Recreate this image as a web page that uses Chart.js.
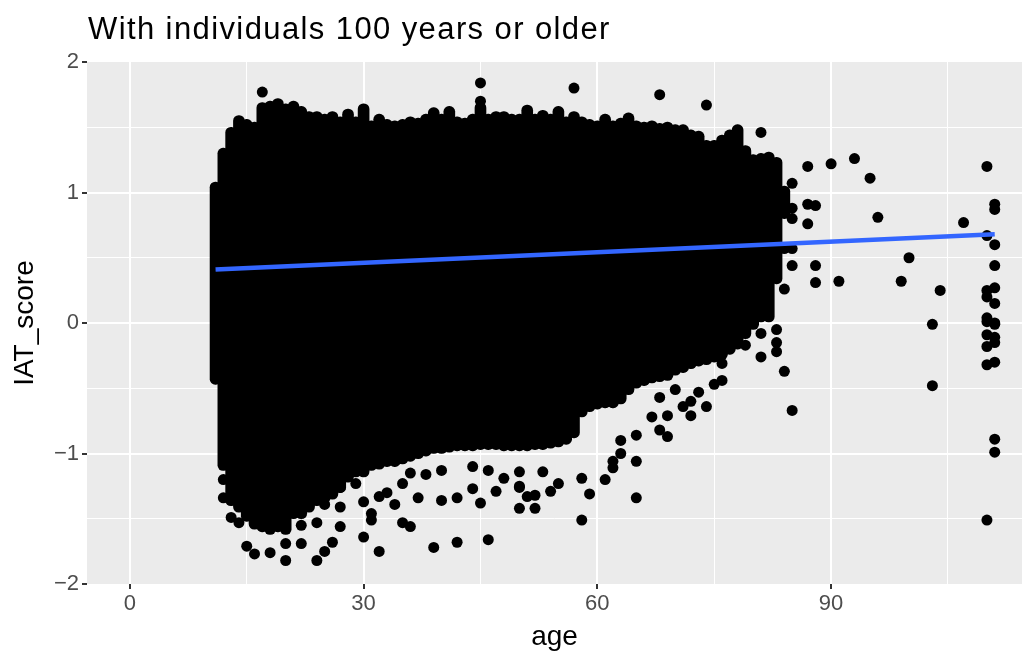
<!DOCTYPE html>
<html>
<head>
<meta charset="utf-8">
<script src="https://cdn.jsdelivr.net/npm/chart.js@4.4.1/dist/chart.umd.min.js"></script>
<style>
  html, body { margin: 0; padding: 0; background: #fff; }
  #wrap { width: 1031px; height: 654px; }
</style>
</head>
<body>
<div id="wrap"><canvas id="iatChart"></canvas></div>
<script>
const plotTitle = 'With individuals 100 years or older';

// dense cloud: for each age, lowest and highest score of the solid mass
const coreAges = [11, 12, 13, 14, 15, 16, 17, 18, 19, 20, 21, 22, 23, 24, 25, 26, 27, 28, 29, 30,
    31, 32, 33, 34, 35, 36, 37, 38, 39, 40, 41, 42, 43, 44, 45, 46, 47, 48, 49, 50,
    51, 52, 53, 54, 55, 56, 57, 58, 59, 60, 61, 62, 63, 64, 65, 66, 67, 68, 69, 70,
    71, 72, 73, 74, 75, 76, 77, 78, 79, 80, 81, 82, 83, 84];
const coreHi = [1.08, 1.34, 1.50, 1.59, 1.56, 1.54, 1.69, 1.70, 1.72, 1.68, 1.70, 1.66, 1.62, 1.62, 1.60, 1.62, 1.58, 1.64, 1.58, 1.68,
    1.55, 1.60, 1.56, 1.55, 1.56, 1.58, 1.57, 1.60, 1.65, 1.60, 1.66, 1.58, 1.57, 1.60, 1.69, 1.60, 1.62, 1.62, 1.60, 1.60,
    1.67, 1.60, 1.63, 1.60, 1.66, 1.58, 1.62, 1.58, 1.56, 1.55, 1.60, 1.55, 1.57, 1.61, 1.55, 1.54, 1.55, 1.53, 1.54, 1.52,
    1.52, 1.48, 1.47, 1.40, 1.40, 1.44, 1.48, 1.52, 1.36, 1.29, 1.30, 1.31, 1.27, 1.05];
const coreLo = [-0.47, -1.13, -1.40, -1.45, -1.52, -1.58, -1.60, -1.62, -1.60, -1.62, -1.50, -1.50, -1.45, -1.40, -1.38, -1.35, -1.30, -1.22, -1.18, -1.18,
    -1.13, -1.12, -1.10, -1.10, -1.08, -1.06, -1.04, -1.02, -1.00, -1.00, -0.99, -0.98, -0.98, -0.98, -0.97, -0.97, -0.97, -0.98, -0.98, -0.98,
    -0.98, -0.97, -0.97, -0.96, -0.95, -0.93, -0.88, -0.72, -0.68, -0.66, -0.65, -0.65, -0.62, -0.55, -0.50, -0.48, -0.46, -0.45, -0.44, -0.40,
    -0.38, -0.35, -0.33, -0.32, -0.30, -0.28, -0.24, -0.20, -0.12, -0.05, 0.00, 0.00, 0.30, 0.80];

// single points outside the solid mass
const outAge = [17, 45, 45, 57, 68, 74, 81,
    12, 12, 13, 14, 15, 16, 18, 20, 20, 22, 22, 24, 25, 26, 24, 27, 27, 25, 30, 31, 31, 32, 30, 32,
    33, 34, 35, 36, 37, 39, 40, 42, 42, 44, 45, 46, 47, 48, 50, 50, 44, 46, 38, 40, 35, 36, 29, 27,
    50, 50, 51, 52, 52, 53, 54, 55, 58, 58, 59, 61, 62, 62, 63, 63, 65, 65, 65, 68, 69, 69, 67, 68,
    71, 72, 74, 72, 73, 75, 76, 76, 70,
    79, 81, 81, 83, 83, 83, 84, 84, 84, 85, 85, 85, 85, 85, 85, 87, 87, 87, 88, 88, 88,
    90, 91, 93, 95, 96, 99, 100, 103, 103, 104, 107,
    110, 110, 110, 110, 110, 110, 110, 110, 110, 110,
    111, 111, 111, 111, 111, 111, 111, 111, 111, 111, 111, 111, 111];
const outScore = [1.77, 1.84, 1.70, 1.80, 1.75, 1.67, 1.46,
    -1.20, -1.34, -1.49, -1.53, -1.71, -1.77, -1.76, -1.82, -1.69, -1.69, -1.55, -1.82, -1.75, -1.68, -1.53, -1.56, -1.41, -1.39, -1.64, -1.51, -1.46, -1.75, -1.37, -1.33,
    -1.30, -1.39, -1.53, -1.56, -1.34, -1.72, -1.36, -1.34, -1.68, -1.27, -1.38, -1.66, -1.29, -1.19, -1.42, -1.26, -1.10, -1.13, -1.16, -1.13, -1.23, -1.15, -1.23, -1.26,
    -1.14, -1.25, -1.33, -1.32, -1.42, -1.14, -1.29, -1.23, -1.51, -1.19, -1.31, -1.20, -1.11, -1.06, -1.00, -0.90, -1.06, -1.34, -0.86, -0.82, -0.87, -0.71, -0.72, -0.57,
    -0.64, -0.71, -0.64, -0.60, -0.53, -0.47, -0.44, -0.31, -0.51,
    -0.17, -0.08, -0.26, -0.05, -0.15, -0.22, 0.57, 0.26, -0.37, 1.07, 0.88, 0.80, 0.57, 0.44, -0.67, 1.20, 0.91, 0.76, 0.90, 0.44, 0.31,
    1.22, 0.32, 1.26, 1.11, 0.81, 0.32, 0.50, -0.01, -0.48, 0.25, 0.77,
    1.20, 0.67, 0.25, 0.20, 0.04, 0.01, -0.09, -0.18, -0.32, -1.51,
    0.91, 0.87, 0.60, 0.44, 0.27, 0.15, 0.00, -0.01, -0.11, -0.15, -0.30, -0.89, -0.99];

// linear fit
const fitAge = [11, 111];
const fitScore = [0.41, 0.68];

const xTicks = [0, 15, 30, 45, 60, 75, 90, 105];
const yTicks = [-2, -1.5, -1, -0.5, 0, 0.5, 1, 1.5, 2];

Chart.defaults.font.family = '"Liberation Sans", Arial, sans-serif';

// grey panel behind the grid
const panelBg = {
    id: 'panelBg',
    beforeDraw(chart) {
        const { ctx, chartArea: a } = chart;
        ctx.save();
        ctx.fillStyle = '#EBEBEB';
        ctx.fillRect(a.left, a.top, a.right - a.left, a.bottom - a.top);
        ctx.restore();
    }
};

// left aligned plot title like ggplot
const titlePlugin = {
    id: 'plotTitle',
    afterDraw(chart) {
        const { ctx, chartArea } = chart;
        ctx.save();
        ctx.font = '31px "Liberation Sans", Arial, sans-serif';
        ctx.letterSpacing = '1.4px';
        ctx.fillStyle = '#000';
        ctx.textBaseline = 'alphabetic';
        ctx.fillText(plotTitle, chartArea.left + 1, 39);
        ctx.restore();
    }
};

const minus = v => (v < 0 ? '\u2212' + Math.abs(v) : String(v));

new Chart(document.getElementById('iatChart').getContext('2d'), {
    type: 'scatter',
    data: {
        datasets: [
            {
                type: 'line',
                data: fitAge.map((a, i) => ({ x: a, y: fitScore[i] })),
                borderColor: '#3366FF',
                borderWidth: 4.5,
                pointRadius: 0,
                showLine: true,
                fill: false,
                order: 1
            },
            {
                type: 'scatter',
                data: outAge.map((a, i) => ({ x: a, y: outScore[i] })),
                pointRadius: 5.5,
                pointBackgroundColor: '#000',
                pointBorderWidth: 0,
                order: 2
            },
            {
                type: 'bar',
                data: coreAges.map((a, i) => ({ x: a, y: [coreLo[i], coreHi[i]] })),
                backgroundColor: '#000',
                barThickness: 11,
                borderRadius: 5.5,
                borderSkipped: false,
                grouped: false,
                order: 3
            }
        ]
    },
    options: {
        responsive: true,
        maintainAspectRatio: false,
        animation: false,
        events: [],
        layout: { padding: { top: 62, right: 9, left: 0, bottom: 0 } },
        plugins: {
            legend: { display: false },
            tooltip: { enabled: false }
        },
        scales: {
            x: {
                type: 'linear',
                min: -5.5,
                max: 114.5,
                offset: false,
                afterBuildTicks: axis => { axis.ticks = xTicks.map(v => ({ value: v })); },
                afterFit: axis => { axis.height = 70; },
                ticks: {
                    callback: v => (v % 30 === 0 ? minus(v) : ''),
                    color: '#4D4D4D',
                    font: { size: 22 },
                    padding: 2,
                    maxRotation: 0,
                    autoSkip: false
                },
                grid: {
                    offset: false,
                    color: '#FFFFFF',
                    lineWidth: c => (c.tick && c.tick.value % 30 === 0 ? 2 : 1),
                    tickColor: c => (c.tick && c.tick.value % 30 === 0 ? '#333333' : 'rgba(0,0,0,0)'),
                    tickLength: 5,
                    tickWidth: 2
                },
                border: { display: false },
                title: {
                    display: true,
                    text: 'age',
                    color: '#000',
                    font: { size: 28 },
                    padding: { top: 0, bottom: 0 }
                }
            },
            y: {
                type: 'linear',
                min: -2,
                max: 2,
                afterBuildTicks: axis => { axis.ticks = yTicks.map(v => ({ value: v })); },
                afterFit: axis => { axis.width = 87; },
                ticks: {
                    callback: v => (Number.isInteger(v) ? minus(v) : ''),
                    color: '#4D4D4D',
                    font: { size: 22 },
                    padding: 3,
                    autoSkip: false
                },
                grid: {
                    color: c => (c.tick && Math.abs(c.tick.value) === 2 ? 'rgba(0,0,0,0)' : '#FFFFFF'),
                    lineWidth: c => (c.tick && Number.isInteger(c.tick.value) ? 2 : 1),
                    tickColor: c => (c.tick && Number.isInteger(c.tick.value) ? '#333333' : 'rgba(0,0,0,0)'),
                    tickLength: 5,
                    tickWidth: 2
                },
                border: { display: false },
                title: {
                    display: true,
                    text: 'IAT_score',
                    color: '#000',
                    font: { size: 28 },
                    padding: { top: 8, bottom: 0 }
                }
            }
        }
    },
    plugins: [panelBg, titlePlugin]
});
</script>
</body>
</html>
